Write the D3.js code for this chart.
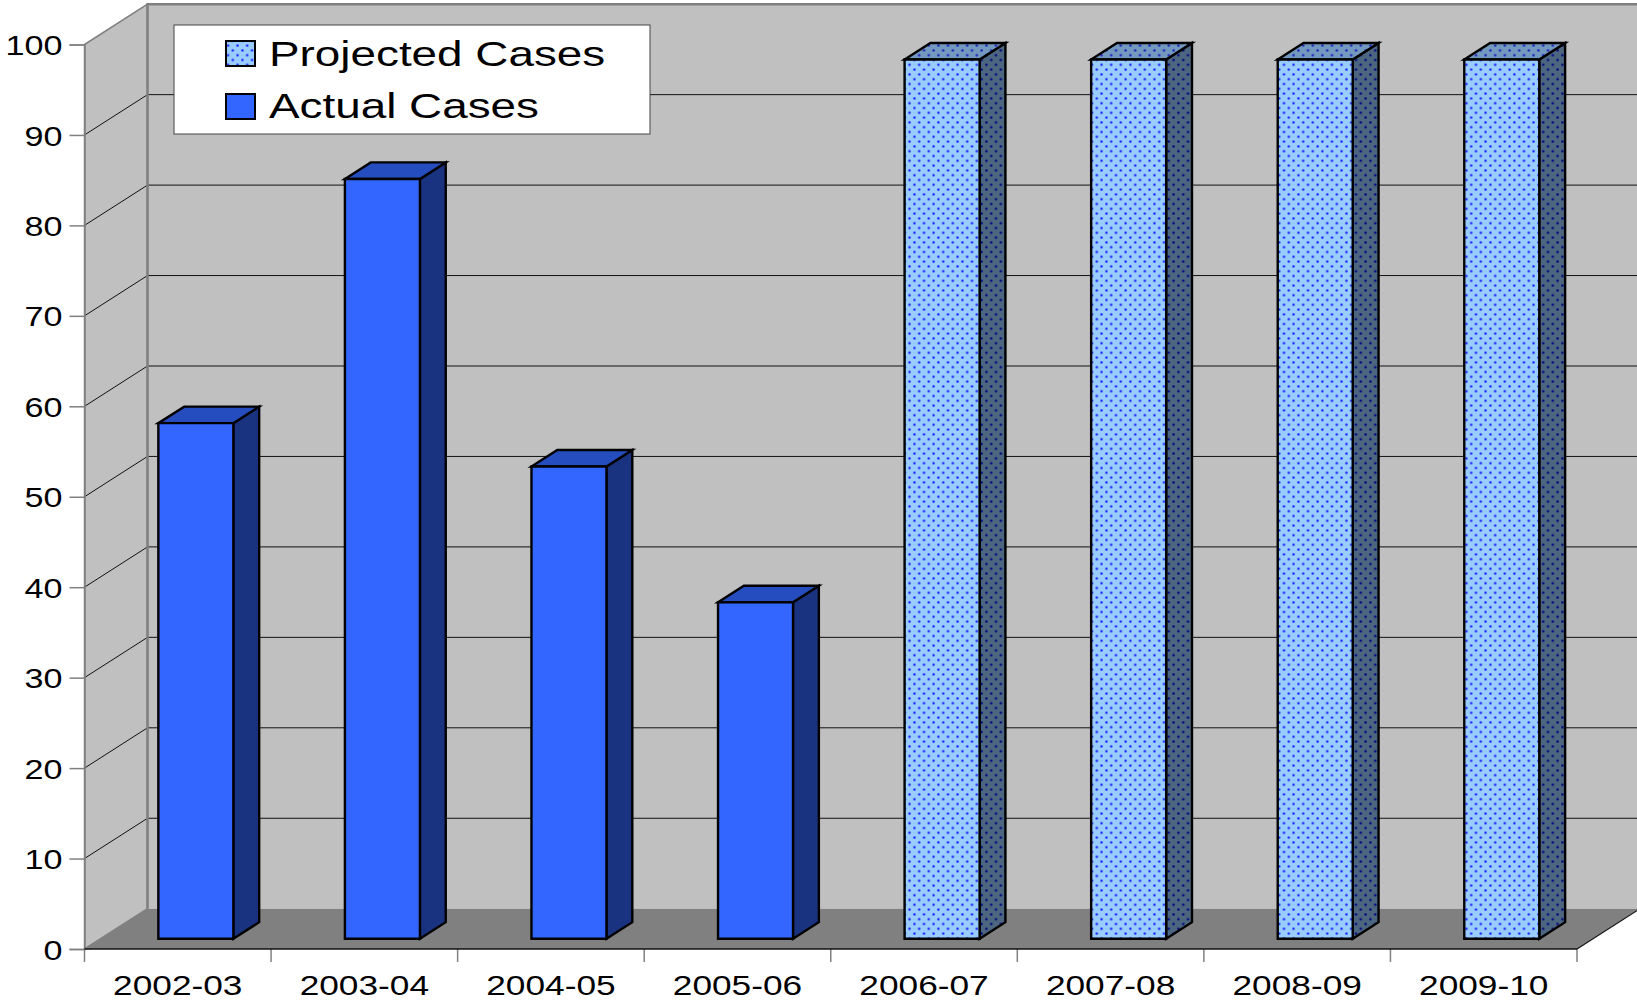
<!DOCTYPE html>
<html>
<head>
<meta charset="utf-8">
<script src="https://cdn.jsdelivr.net/npm/d3@7"></script>
<style>
  html, body { margin: 0; padding: 0; background: #fff; }
  svg { display: block; }
  text { font-family: "Liberation Sans", Arial, sans-serif; fill: #000; }
</style>
</head>
<body>
<script>
// chart values
var categories = ["2002-03", "2003-04", "2004-05", "2005-06", "2006-07", "2007-08", "2008-09", "2009-10"];
var actualCases = [57, 84, 52.2, 37.2, null, null, null, null];
var projectedCases = [null, null, null, null, 97.2, 97.2, 97.2, 97.2];
var yTicks = [0, 10, 20, 30, 40, 50, 60, 70, 80, 90, 100];
var legendLabels = ["Projected Cases", "Actual Cases"];

var width = 1637, height = 1004;

var svg = d3.select("body").append("svg")
    .attr("width", width)
    .attr("height", height);

// front plane of the 3d box
var x = d3.scaleBand().domain(categories).range([84.5, 1577]);
var y = d3.scaleLinear().domain([0, 100]).range([949, 44.5]);

// depth goes from 0 (front) to 1 (back wall)
var depthX = d3.scaleLinear().domain([0, 1]).range([0, 63]);
var depthY = d3.scaleLinear().domain([0, 1]).range([0, -40.3]);

function pt(px, val, d) {
  return [px + depthX(d), y(val) + depthY(d)];
}
function poly(points) {
  return "M" + points.map(function(p) { return p.join(","); }).join("L") + "Z";
}

// fill patterns for the projected bars
var defs = svg.append("defs");
function dots(id, bg, dot) {
  var p = defs.append("pattern")
      .attr("id", id)
      .attr("patternUnits", "userSpaceOnUse")
      .attr("width", 9.6)
      .attr("height", 9.6);
  p.append("rect").attr("width", 9.6).attr("height", 9.6).attr("fill", bg);
  p.append("circle").attr("cx", 2.4).attr("cy", 2.4).attr("r", 1.2).attr("fill", dot);
  p.append("circle").attr("cx", 7.2).attr("cy", 7.2).attr("r", 1.2).attr("fill", dot);
}
dots("projFront", "#99ccff", "#1a1aff");
dots("projSide", "#4d6680", "#000080");
dots("projTop", "#7399bf", "#1a1abf");

var wallColor = "#c0c0c0", floorColor = "#808080", edgeColor = "#808080";
var x0 = x.range()[0], x1 = x.range()[1];

// walls and floor
svg.append("path")
    .attr("d", poly([pt(x0, 0, 1), pt(x0 + 1600, 0, 1), pt(x0 + 1600, 100, 1), pt(x0, 100, 1)]))
    .attr("fill", wallColor);
svg.append("path")
    .attr("d", poly([pt(x0, 0, 0), pt(x0, 100, 0), pt(x0, 100, 1), pt(x0, 0, 1)]))
    .attr("fill", wallColor)
    .attr("stroke", edgeColor)
    .attr("stroke-width", 1.5);
svg.append("path")
    .attr("d", poly([pt(x0, 0, 0), pt(x1, 0, 0), pt(x1, 0, 1), pt(x0, 0, 1)]))
    .attr("fill", floorColor);

// gridlines along side wall and back wall
var grid = svg.append("g");
yTicks.slice(1, -1).forEach(function(t) {
  var a = pt(x0, t, 0), b = pt(x0, t, 1), c = pt(x1 + 100, t, 1);
  grid.append("path")
      .attr("d", "M" + a + "L" + b + "L" + c)
      .attr("fill", "none")
      .attr("stroke", "#111")
      .attr("stroke-width", 1);
});

// back wall edges
svg.append("path")
    .attr("d", "M" + pt(x0, 0, 1) + "L" + pt(x0, 100, 1) + "L" + pt(x1 + 100, 100, 1))
    .attr("fill", "none")
    .attr("stroke", edgeColor)
    .attr("stroke-width", 2.5);

// axes
var yAxis = d3.axisLeft(y).tickValues(yTicks).tickSize(15).tickPadding(3);
var gy = svg.append("g").attr("transform", "translate(" + x0 + ",0)").call(yAxis);
gy.selectAll("path,line").attr("stroke", edgeColor).attr("stroke-width", 1.5);
gy.selectAll("text")
    .attr("font-size", 28)
    .attr("dy", "0.36em")
    .attr("transform", "scale(1.22,1)");

var gx = svg.append("g");
gx.selectAll("line.tick")
    .data(d3.range(categories.length + 1))
  .enter().append("line")
    .attr("class", "tick")
    .attr("x1", function(i) { return x0 + i * x.bandwidth(); })
    .attr("x2", function(i) { return x0 + i * x.bandwidth(); })
    .attr("y1", y(0))
    .attr("y2", y(0) + 13)
    .attr("stroke", edgeColor)
    .attr("stroke-width", 1.5);
gx.append("line")
    .attr("x1", x0).attr("x2", x1)
    .attr("y1", y(0)).attr("y2", y(0))
    .attr("stroke", "#111")
    .attr("stroke-width", 1.5);
gx.selectAll("text")
    .data(categories)
  .enter().append("text")
    .attr("text-anchor", "middle")
    .attr("font-size", 28)
    .attr("transform", function(d) {
      return "translate(" + (x(d) + x.bandwidth() / 2) + ",995) scale(1.26,1)";
    })
    .text(function(d) { return d; });

// right hand floor edge
svg.append("path")
    .attr("d", "M" + pt(x1, 0, 0) + "L" + pt(x1, 0, 1))
    .attr("stroke", "#111")
    .attr("stroke-width", 1.2);

// bars
var barWidth = 75, dNear = 0.255, dFar = 0.665;
function drawBar(cat, val, front, side, top) {
  var left = x(cat) + x.bandwidth() / 2 - barWidth / 2 + 2;
  var right = left + barWidth;
  var g = svg.append("g")
      .attr("stroke", "#000")
      .attr("stroke-width", 2.4)
      .attr("stroke-linejoin", "miter");
  g.append("path")
      .attr("d", poly([pt(right, 0, dNear), pt(right, 0, dFar), pt(right, val, dFar), pt(right, val, dNear)]))
      .attr("fill", side);
  g.append("path")
      .attr("d", poly([pt(left, val, dNear), pt(right, val, dNear), pt(right, val, dFar), pt(left, val, dFar)]))
      .attr("fill", top);
  g.append("path")
      .attr("d", poly([pt(left, 0, dNear), pt(right, 0, dNear), pt(right, val, dNear), pt(left, val, dNear)]))
      .attr("fill", front);
}
categories.forEach(function(c, i) {
  if (actualCases[i] != null) drawBar(c, actualCases[i], "#3366ff", "#1a3380", "#264dbf");
  if (projectedCases[i] != null) drawBar(c, projectedCases[i], "url(#projFront)", "url(#projSide)", "url(#projTop)");
});

// legend
var legend = svg.append("g");
legend.append("rect")
    .attr("x", 174).attr("y", 25)
    .attr("width", 476).attr("height", 109)
    .attr("fill", "#fff")
    .attr("stroke", "#444")
    .attr("stroke-width", 1);
var legendFill = ["url(#projFront)", "#3366ff"];
var legendTop = [41, 94], legendBase = [66, 118];
legendLabels.forEach(function(d, i) {
  legend.append("rect")
      .attr("x", 226).attr("y", legendTop[i])
      .attr("width", 29).attr("height", 25)
      .attr("fill", legendFill[i])
      .attr("stroke", "#000")
      .attr("stroke-width", 2);
  legend.append("text")
      .attr("font-size", 35)
      .attr("transform", "translate(269," + legendBase[i] + ") scale(1.31,1)")
      .text(d);
});
</script>
</body>
</html>
